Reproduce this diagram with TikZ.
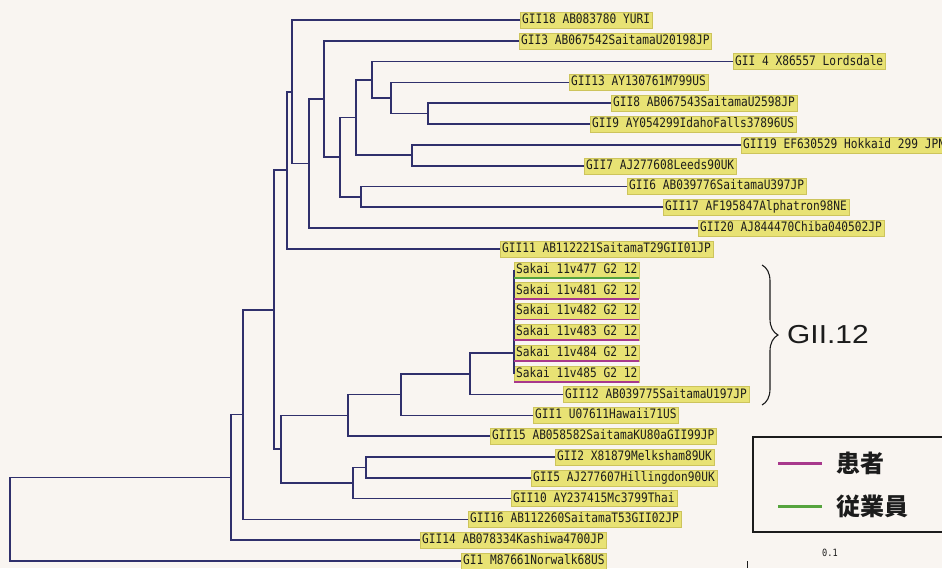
\documentclass[tikz,border=0pt]{standalone}
\usepackage{fontspec}
\usepackage{tikz}
\usetikzlibrary{calc,positioning,decorations.pathreplacing}

\newfontfamily\strainfont[FakeStretch=0.86]{DejaVu Sans Mono}
\newfontfamily\jpfont{Noto Sans CJK JP}
\newfontfamily\cladefont[FakeStretch=1.15]{Liberation Sans}

\definecolor{paper}{RGB}{249,245,241}
\definecolor{treeblue}{RGB}{48,48,108}
\definecolor{labelyellow}{RGB}{232,226,116}
\definecolor{labeledge}{RGB}{205,196,92}
\definecolor{patmagenta}{RGB}{168,56,140}
\definecolor{staffgreen}{RGB}{86,164,62}
\definecolor{ink}{RGB}{28,28,28}

% row -> vertical position
\newcommand{\ry}[1]{20+20.81*(#1)}

\tikzstyle{strain} = [anchor=west, fill=labelyellow, draw=labeledge, line width=0.3pt, inner xsep=2pt, inner ysep=2pt, text height=9.5pt, text depth=2.5pt, text=ink, font=\strainfont\fontsize{13pt}{13pt}\selectfont]
\tikzstyle{treeline} = [draw=treeblue, line width=1.7pt]
\tikzstyle{patient} = [draw=patmagenta, line width=1.8pt]
\tikzstyle{staff} = [draw=staffgreen, line width=1.8pt]
\tikzstyle{legendframe} = [draw=ink, line width=1.4pt, minimum width=197pt, minimum height=95pt, inner sep=0pt]
\tikzstyle{jplabel} = [anchor=west, inner sep=0pt, text=ink, font=\jpfont\bfseries\fontsize{24pt}{24pt}\selectfont]
\tikzstyle{cladelabel} = [anchor=west, inner sep=0pt, text=ink, font=\cladefont\fontsize{26pt}{26pt}\selectfont]
\tikzstyle{clbrace} = [draw=ink, line width=1.1pt, decorate, decoration={brace, amplitude=16pt}]

\begin{document}
\begin{tikzpicture}[x=1pt, y=-1pt]
	\useasboundingbox (0,0) rectangle (942,568);
	\fill[paper] (0,0) rectangle (942,568);
	\clip (0,0) rectangle (942,568);

	% strains
	\foreach \nm/\lx/\txt [count=\i from 0] in {
		g18/520/GII18 AB083780 YURI,
		g3/519/GII3 AB067542SaitamaU20198JP,
		g4/733/GII 4 X86557 Lordsdale,
		g13/569/GII13 AY130761M799US,
		g8/611/GII8 AB067543SaitamaU2598JP,
		g9/590/GII9 AY054299IdahoFalls37896US,
		g19/741/GII19 EF630529 Hokkaid 299 JPN,
		g7/584/GII7 AJ277608Leeds90UK,
		g6/627/GII6 AB039776SaitamaU397JP,
		g17/663/GII17 AF195847Alphatron98NE,
		g20/698/GII20 AJ844470Chiba040502JP,
		g11/500/GII11 AB112221SaitamaT29GII01JP,
		s477/514/Sakai 11v477 G2 12,
		s481/514/Sakai 11v481 G2 12,
		s482/514/Sakai 11v482 G2 12,
		s483/514/Sakai 11v483 G2 12,
		s484/514/Sakai 11v484 G2 12,
		s485/514/Sakai 11v485 G2 12,
		g12/563/GII12 AB039775SaitamaU197JP,
		g1h/533/GII1 U07611Hawaii71US,
		g15/490/GII15 AB058582SaitamaKU80aGII99JP,
		g2/555/GII2 X81879Melksham89UK,
		g5/531/GII5 AJ277607Hillingdon90UK,
		g10/511/GII10 AY237415Mc3799Thai,
		g16/468/GII16 AB112260SaitamaT53GII02JP,
		g14/420/GII14 AB078334Kashiwa4700JP,
		gi1/461/GI1 M87661Norwalk68US}
		\node[strain] (\nm) at (\lx,{\ry{\i}}) {\txt};

	% internal nodes
	\coordinate (n428) at (428,{\ry{4.5}});
	\coordinate (n391) at (391,{\ry{3.75}});
	\coordinate (n372) at (372,{\ry{2.875}});
	\coordinate (n412) at (412,{\ry{6.5}});
	\coordinate (n356) at (356,{\ry{4.6875}});
	\coordinate (n361) at (361,{\ry{8.5}});
	\coordinate (n340) at (340,{\ry{6.59375}});
	\coordinate (n324) at (324,{\ry{3.796875}});
	\coordinate (n309) at (309,{\ry{6.8984}});
	\coordinate (n292) at (292,{\ry{3.4492}});
	\coordinate (n287) at (287,{\ry{7.2246}});
	\coordinate (n470) at (470,{\ry{17}});
	\coordinate (n401) at (401,{\ry{18}});
	\coordinate (n348) at (348,{\ry{19}});
	\coordinate (n366) at (366,{\ry{21.5}});
	\coordinate (n353) at (353,{\ry{22.25}});
	\coordinate (n281) at (281,{\ry{20.625}});
	\coordinate (n274) at (274,{\ry{13.9248}});
	\coordinate (n243) at (243,{\ry{18.9624}});
	\coordinate (n231) at (231,{\ry{21.9812}});
	\coordinate (root) at (10,{\ry{23.9906}});

	% branches
	\foreach \p/\c in {n428/g8.west, n428/g9.west, n391/g13.west, n391/n428,
		n372/g4.west, n372/n391, n412/g19.west, n412/g7.west, n356/n372, n356/n412,
		n361/g6.west, n361/g17.west, n340/n356, n340/n361, n324/g3.west, n324/n340,
		n309/n324, n309/g20.west, n292/g18.west, n292/n309, n287/n292, n287/g11.west,
		n470/s484.west, n470/g12.west, n401/n470, n401/g1h.west, n348/n401, n348/g15.west,
		n366/g2.west, n366/g5.west, n353/n366, n353/g10.west, n281/n348, n281/n353,
		n274/n287, n274/n281, n243/n274, n243/g16.west, n231/n243, n231/g14.west,
		root/n231, root/gi1.west}
		\draw[treeline] (\p) |- (\c);
	\draw[treeline] (s477.west) -- (s485.west);

	% sample underlines
	\draw[staff] (s477.south west) -- (s477.south east);
	\foreach \s in {s481,s482,s483,s484,s485}
		\draw[patient] (\s.south west) -- (\s.south east);

	% clade
	\coordinate (bracetop) at (762,265);
	\coordinate (bracebot) at (762,405);
	\draw[clbrace] (bracetop) -- (bracebot);
	\node[cladelabel] (clade) at (787,335) {GII.12};

	% legend
	\node[legendframe] (legend) at (851.5,484.5) {};
	\node[jplabel] (patlbl) at (836,463) {患者};
	\node[jplabel] (staflbl) at (836,506) {従業員};
	\draw[patient, line width=3pt] ($(patlbl.west)+(-58,0)$) -- ($(patlbl.west)+(-14,0)$);
	\draw[staff, line width=3pt] ($(staflbl.west)+(-58,0)$) -- ($(staflbl.west)+(-14,0)$);

	% scale
	\node[font=\strainfont\fontsize{10pt}{10pt}\selectfont, text=ink] (scale) at (830,553) {0.1};
	\coordinate (tickA) at (747,561);
	\coordinate (tickB) at (747,568);
	\draw[ink, line width=0.8pt] (tickA) -- (tickB);
\end{tikzpicture}
\end{document}
